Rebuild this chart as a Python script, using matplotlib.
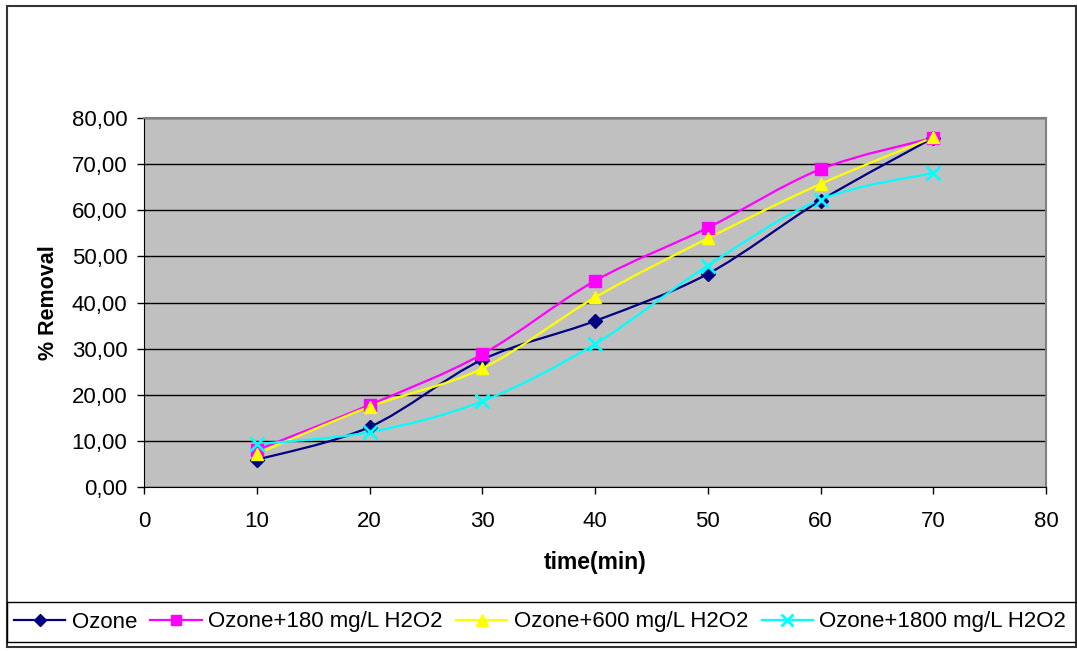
import matplotlib
matplotlib.use("Agg")
import matplotlib.pyplot as plt
from matplotlib.path import Path
from matplotlib.patches import PathPatch, Rectangle
from matplotlib.lines import Line2D
from matplotlib.ticker import FuncFormatter
import numpy as np

plt.rcParams['font.family'] = ['Liberation Sans', 'DejaVu Sans']

time_min = [10, 20, 30, 40, 50, 60, 70]
ozone = [5.9, 13.0, 27.6, 36.0, 46.2, 62.1, 75.7]
ozone_180 = [8.0, 17.8, 28.8, 44.7, 56.2, 68.9, 75.7]
ozone_600 = [7.2, 17.4, 25.7, 41.1, 53.9, 65.7, 75.8]
ozone_1800 = [9.3, 11.9, 18.6, 31.0, 48.0, 62.3, 68.1]

labels = ['Ozone', 'Ozone+180 mg/L H2O2', 'Ozone+600 mg/L H2O2', 'Ozone+1800 mg/L H2O2']
colors = ['#000080', '#FF00FF', '#FFFF00', '#00FFFF']
markers = ['D', 's', '^', 'x']
msizes = [7, 8, 9, 10]


def smooth_path(xs, ys):
    # excel-like smoothed line: bezier segments through every point
    p = np.column_stack([xs, ys]).astype(float)
    ext = np.vstack([p[0], p, p[-1]])
    verts = [p[0]]
    codes = [Path.MOVETO]
    for i in range(len(p) - 1):
        p0, p1, p2, p3 = ext[i], ext[i + 1], ext[i + 2], ext[i + 3]
        c1 = p1 + (p2 - p0) / 6.0
        c2 = p2 - (p3 - p1) / 6.0
        verts += [c1, c2, p2]
        codes += [Path.CURVE4] * 3
    return Path(verts, codes)


fig = plt.figure(figsize=(10.77, 6.51), dpi=100)
ax = fig.add_axes([144 / 1077, 1 - 487 / 651, 902 / 1077, 369 / 651])
ax.set_facecolor('#C0C0C0')

series = [ozone, ozone_180, ozone_600, ozone_1800]
handles = []
for vals, c, m, ms, lab in zip(series, colors, markers, msizes, labels):
    ax.add_patch(PathPatch(smooth_path(time_min, vals), facecolor='none',
                           edgecolor=c, lw=1.6, zorder=3))
    mew = 2 if m == 'x' else 1
    ax.plot(time_min, vals, linestyle='none', marker=m, markersize=ms,
            color=c, markeredgecolor=c, markeredgewidth=mew, zorder=4)
    handles.append(Line2D([], [], color=c, lw=1.6, marker=m, markersize=ms - 1,
                          markeredgewidth=mew, label=lab))

ax.set_xlim(0, 80)
ax.set_ylim(0, 80)
ax.set_xticks(range(0, 81, 10))
ax.set_yticks(range(0, 81, 10))
ax.yaxis.set_major_formatter(FuncFormatter(lambda v, p: ('%.2f' % v).replace('.', ',')))
ax.grid(axis='y', color='black', lw=1)
ax.set_axisbelow(True)
ax.tick_params(direction='out', length=5, width=1, labelsize=16, colors='black')
ax.tick_params(axis='y', pad=7)
ax.tick_params(axis='x', pad=12)
for s in ['top', 'right']:
    ax.spines[s].set_color('#808080')
    ax.spines[s].set_linewidth(1.5)
for s in ['left', 'bottom']:
    ax.spines[s].set_color('black')

ax.set_xlabel('time(min)', fontsize=16.5, fontweight='bold', labelpad=14)
ax.set_ylabel('% Removal', fontsize=15.5, fontweight='bold', labelpad=9)

# outer chart border and legend box
fig.patches.append(Rectangle((7 / 1077, 1 - 647 / 651), 1069 / 1077, 641 / 651,
                             transform=fig.transFigure, facecolor='none',
                             edgecolor='#333333', lw=1.5))
fig.patches.append(Rectangle((7 / 1077, 1 - 642 / 651), 1075 / 1077, 40 / 651,
                             transform=fig.transFigure, facecolor='none',
                             edgecolor='black', lw=1))

fig.legend(handles=handles, loc='center left', ncol=4, frameon=False,
           bbox_to_anchor=(14 / 1077, 1 - 622 / 651), fontsize=16,
           handlelength=2.3, handletextpad=0.3, columnspacing=0.6,
           borderpad=0, borderaxespad=0)

fig.savefig('out.png', dpi=100)
